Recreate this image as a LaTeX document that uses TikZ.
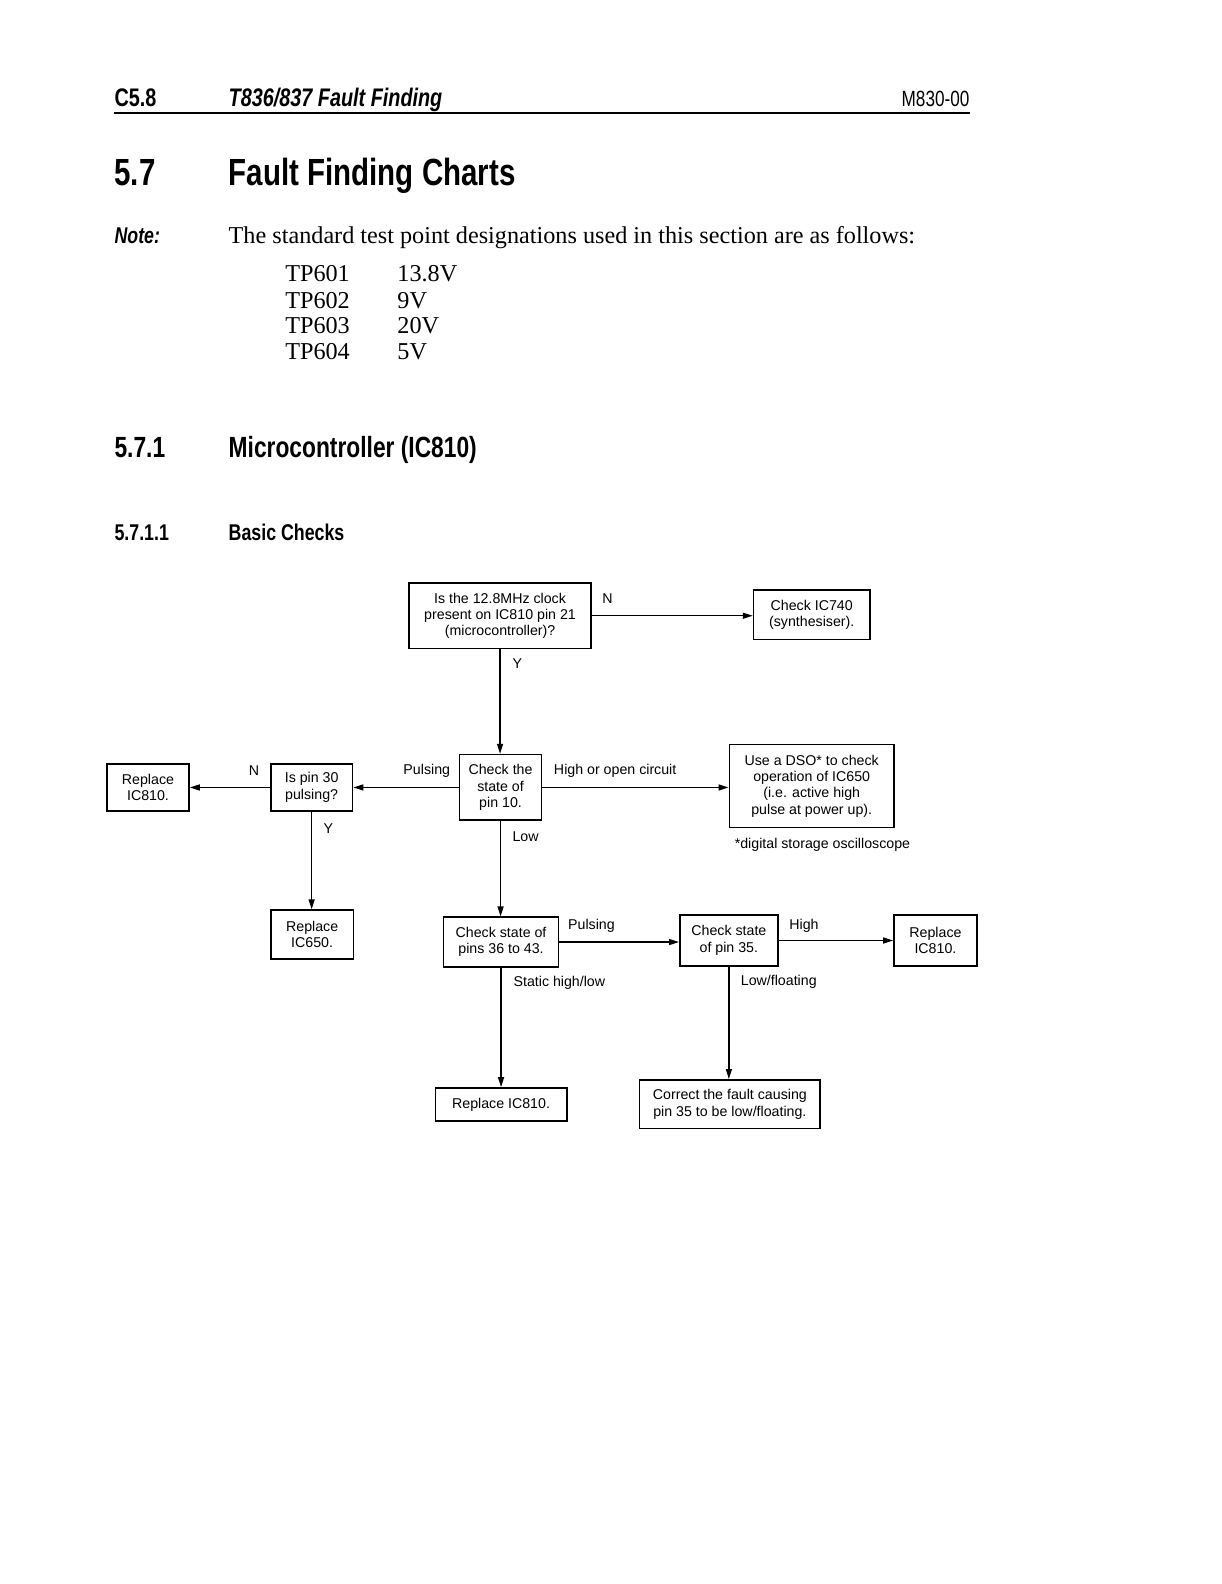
\documentclass[tikz,border=0pt]{standalone}
\usepackage{fontspec}
\setmainfont{Liberation Serif}
\newfontfamily\hcond[FakeStretch=0.78]{Liberation Sans}
\newfontfamily\chartfont{Liberation Sans}
\usetikzlibrary{arrows.meta}
\tikzset{
  box/.style 2 args={draw, line width=0.85pt, inner sep=0pt, align=center,
    minimum width=#1*0.50496pt, minimum height=#2*0.50496pt,
    font=\chartfont\fontsize{7.1}{8.2}\selectfont},
  lbl/.style={anchor=west, inner sep=0pt, font=\chartfont\fontsize{7.1}{8.2}\selectfont},
  arr/.style={line width=0.65pt, -{Triangle[length=5pt,width=3pt]}},
  headtxt/.style={anchor=base west, inner sep=0pt},
  bodytxt/.style={anchor=base west, inner sep=0pt, font=\fontsize{12.1}{14}\selectfont}
}
\begin{document}
\begin{tikzpicture}[x=0.50496pt, y=-0.50496pt]
\useasboundingbox (0,0) rectangle (1209,1568);

% page header
\node[headtxt, font=\hcond\bfseries\fontsize{12.7}{14}\selectfont] (pg) at (113,105) {C5.8};
\node[headtxt, font=\hcond\bfseries\itshape\fontsize{12.7}{14}\selectfont] (ttl) at (226,105) {T836/837 Fault Finding};
\node[anchor=base east, inner sep=0pt, font=\hcond\fontsize{11}{13}\selectfont] (doc) at (960,105) {M830-00};
\draw[line width=0.8pt] (113,112) -- (960,112);

% section heading
\node[headtxt, font=\hcond\bfseries\fontsize{18.9}{22}\selectfont] (s57) at (113,184) {5.7};
\node[headtxt, font=\hcond\bfseries\fontsize{18.9}{22}\selectfont] (s57t) at (226,184) {Fault Finding Charts};

% note
\node[headtxt, font=\hcond\bfseries\itshape\fontsize{11.4}{13}\selectfont] (note) at (113,241) {Note:};
\node[bodytxt] (notet) at (226,241) {The standard test point designations used in this section are as follows:};
\node[bodytxt] (tp1) at (282,279) {TP601};
\node[bodytxt] (tv1) at (393,279) {13.8V};
\node[bodytxt] (tp2) at (282,305) {TP602};
\node[bodytxt] (tv2) at (393,305) {9V};
\node[bodytxt] (tp3) at (282,330) {TP603};
\node[bodytxt] (tv3) at (393,330) {20V};
\node[bodytxt] (tp4) at (282,356) {TP604};
\node[bodytxt] (tv4) at (393,356) {5V};

% sub headings
\node[headtxt, font=\hcond\bfseries\fontsize{14.6}{17}\selectfont] (s571) at (113,453) {5.7.1};
\node[headtxt, font=\hcond\bfseries\fontsize{14.6}{17}\selectfont] (s571t) at (226,453) {Microcontroller (IC810)};
\node[headtxt, font=\hcond\bfseries\fontsize{11.4}{13}\selectfont] (s5711) at (113,535) {5.7.1.1};
\node[headtxt, font=\hcond\bfseries\fontsize{11.4}{13}\selectfont] (s5711t) at (226,535) {Basic Checks};

% flowchart boxes
\node[box={180}{65}] (A) at (495,609.5) {Is the 12.8MHz clock\\present on IC810 pin 21\\(microcontroller)?};
\node[box={115}{49}] (B) at (803.5,608.5) {Check IC740\\(synthesiser).};
\node[box={81}{65}] (C) at (495.5,779.5) {Check the\\state of\\pin 10.};
\node[box={81}{47}] (D) at (308.5,779.5) {Is pin 30\\pulsing?};
\node[box={81}{47}] (E) at (146.5,779.5) {Replace\\IC810.};
\node[box={82}{48}] (F) at (309,925) {Replace\\IC650.};
\node[box={163}{82}] (G) at (803.5,778) {Use a DSO* to check\\operation of IC650\\(i.e. active high\\pulse at power up).};
\node[box={114}{49}] (H) at (496,932.5) {Check state of\\pins 36 to 43.};
\node[box={97}{50}] (I) at (721.5,931) {Check state\\of pin 35.};
\node[box={82}{50}] (J) at (926,931) {Replace\\IC810.};
\node[box={130}{33}] (K) at (496,1093.5) {Replace IC810.};
\node[box={179}{48}] (L) at (722.5,1093) {Correct the fault causing\\pin 35 to be low/floating.};

% connectors
\draw[arr] (A.east) -- (A.east -| B.west);
\draw[arr] (A.south) -- (A.south |- C.north);
\draw[arr] (C.west) -- (D.east);
\draw[arr] (D.west) -- (E.east);
\draw[arr] (D.south) -- (D.south |- F.north);
\draw[arr] (C.east) -- (C.east -| G.west);
\draw[arr] (C.south) -- (C.south |- H.north);
\draw[arr] (H.east) -- (H.east -| I.west);
\draw[arr] (I.east) -- (I.east -| J.west);
\draw[arr] (H.south) -- (H.south |- K.north);
\draw[arr] (I.south) -- (I.south |- L.north);

% labels
\node[lbl] (lN1) at (596,593) {N};
\node[lbl] (lY1) at (507,657) {Y};
\node[lbl] (lP1) at (399,763) {Pulsing};
\node[lbl] (lN2) at (246,763) {N};
\node[lbl] (lY2) at (320,820) {Y};
\node[lbl] (lH1) at (548,763) {High or open circuit};
\node[lbl] (lLow) at (507,828) {Low};
\node[lbl] (foot) at (727,836) {*digital storage oscilloscope};
\node[lbl] (lP2) at (562,916) {Pulsing};
\node[lbl] (lH2) at (781,916) {High};
\node[lbl] (lS) at (508,973) {Static high/low};
\node[lbl] (lLF) at (733,972) {Low/floating};
\end{tikzpicture}
\end{document}
